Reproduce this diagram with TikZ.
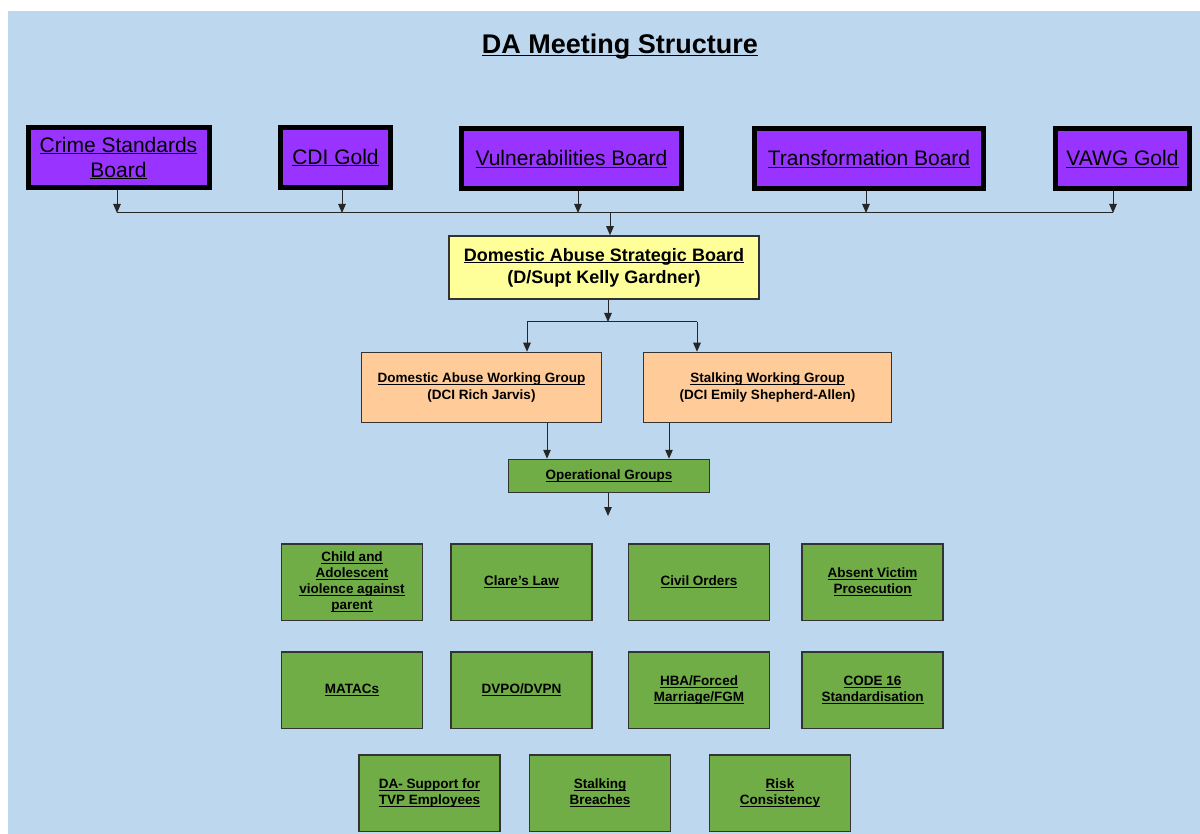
\documentclass[tikz,border=0pt]{standalone}
\usepackage{fontspec}
\setmainfont{Liberation Sans}
\usetikzlibrary{arrows.meta,positioning}
\definecolor{bgblue}{HTML}{BDD7EE}
\definecolor{boardpurple}{HTML}{9933FF}
\definecolor{stratyellow}{HTML}{FFFF99}
\definecolor{wgpeach}{HTML}{FFCC99}
\definecolor{opgreen}{HTML}{70AD47}
\newcommand{\ulin}[1]{\underline{\raisebox{0pt}[\height][0pt]{#1}}}

\begin{document}
\begin{tikzpicture}[x=1pt,y=-1pt,
  board/.style={draw=black,line width=5pt,fill=boardpurple,align=center,inner sep=0pt,
                minimum height=60pt,font=\fontsize{21}{25}\selectfont},
  strat/.style={draw=black!80,line width=1.5pt,fill=stratyellow,align=center,
                minimum width=310pt,minimum height=63pt,font=\fontsize{18}{22}\selectfont\bfseries},
  wg/.style={draw=black!80,line width=1.5pt,fill=wgpeach,align=center,
             minimum height=70pt,font=\fontsize{13.5}{17}\selectfont\bfseries},
  op/.style={draw=black!80,line width=1.5pt,fill=opgreen,align=center,inner sep=1pt,
             minimum width=141pt,minimum height=76.5pt,font=\fontsize{13.5}{16}\selectfont\bfseries},
  link/.style={line width=1pt,draw=black!85},
  flow/.style={link,-{Stealth[length=9pt,width=7.5pt,inset=0pt]}}]

\useasboundingbox (0,0) rectangle (1200,834);
\fill[bgblue] (8,11) rectangle (1200,834);

\node[font=\fontsize{27}{31}\selectfont\bfseries] (title) at (620,45) {\ulin{DA Meeting Structure}};

% boards feeding in
\node[board,minimum width=181pt] (csb) at (118.5,158) {\ulin{Crime Standards}\\\ulin{Board}};
\node[board,minimum width=110pt] (cdi) at (335.5,157.5) {\ulin{CDI Gold}};
\node[board,minimum width=220pt] (vul) at (571.5,159) {\ulin{Vulnerabilities Board}};
\node[board,minimum width=229pt] (tfb) at (869,159) {\ulin{Transformation Board}};
\node[board,minimum width=134pt] (vawg) at (1122.5,159) {\ulin{VAWG Gold}};

\node[strat] (dasb) at (604,267.5) {\ulin{Domestic Abuse Strategic Board}\\(D/Supt Kelly Gardner)};

\node[wg,minimum width=240pt] (dawg) at (481.5,387.5) {\ulin{Domestic Abuse Working Group}\\(DCI Rich Jarvis)};
\node[wg,minimum width=248pt] (swg) at (767.5,387.5) {\ulin{Stalking Working Group}\\(DCI Emily Shepherd-Allen)};

\node[op,minimum width=201pt,minimum height=33pt] (opg) at (609,476) {\ulin{Operational Groups}};

% operational groups grid
\node[op] (cav) at (352,582) {\ulin{Child and}\\\ulin{Adolescent}\\\ulin{violence against}\\\ulin{parent}};
\node[op,right=27pt of cav] (clare) {\ulin{Clare's Law}};
\node[op,right=35pt of clare] (civil) {\ulin{Civil Orders}};
\node[op,right=31pt of civil] (avp) {\ulin{Absent Victim}\\\ulin{Prosecution}};

\node[op] (matac) at (352,690) {\ulin{MATACs}};
\node[op,right=27pt of matac] (dvpo) {\ulin{DVPO/DVPN}};
\node[op,right=35pt of dvpo] (hba) {\ulin{HBA/Forced}\\\ulin{Marriage/FGM}};
\node[op,right=31pt of hba] (code) {\ulin{CODE 16}\\\ulin{Standardisation}};

\node[op] (tvp) at (429.5,793) {\ulin{DA- Support for}\\\ulin{TVP Employees}};
\node[op,right=28pt of tvp] (sbr) {\ulin{Stalking}\\\ulin{Breaches}};
\node[op,right=37.5pt of sbr] (risk) {\ulin{Risk}\\\ulin{Consistency}};

% bus under the boards
\coordinate (b1) at (117,213);
\coordinate (b2) at (342,213);
\coordinate (b3) at (578,213);
\coordinate (b4) at (866,213);
\coordinate (b5) at (1113,213);
\coordinate (b0) at (610,213);
\draw[link] (b1) -- (b5);
\draw[flow] (csb.south -| b1) -- (b1);
\draw[flow] (cdi.south -| b2) -- (b2);
\draw[flow] (vul.south -| b3) -- (b3);
\draw[flow] (tfb.south -| b4) -- (b4);
\draw[flow] (vawg.south -| b5) -- (b5);
\draw[flow] (b0) -- (b0 |- dasb.north);

% split to the working groups
\coordinate (br) at (608,322);
\coordinate (brL) at (527,322);
\coordinate (brR) at (697,322);
\draw[flow] (br |- dasb.south) -- (br);
\draw[link] (brL) -- (brR);
\draw[flow] (brL) -- (brL |- dawg.north);
\draw[flow] (brR) -- (brR |- swg.north);

\coordinate (w1) at (547,440);
\coordinate (w2) at (669,440);
\draw[flow] (w1 |- dawg.south) -- (w1 |- opg.north);
\draw[flow] (w2 |- swg.south) -- (w2 |- opg.north);

\coordinate (opend) at (608,516);
\draw[flow] (opend |- opg.south) -- (opend);
\end{tikzpicture}
\end{document}
